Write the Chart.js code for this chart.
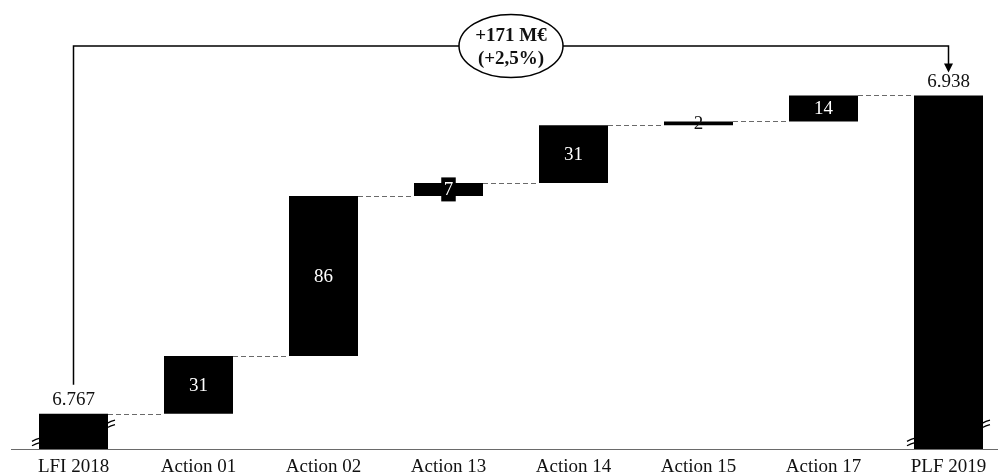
<!DOCTYPE html>
<html>
<head>
<meta charset="utf-8">
<title>Bridge LFI 2018 → PLF 2019</title>
<script src="https://cdn.jsdelivr.net/npm/chart.js@4.4.1/dist/chart.umd.min.js"></script>
<style>
  html, body { margin: 0; padding: 0; background: #fff; overflow: hidden; }
  #wrap { width: 998px; height: 476px; position: relative; }
</style>
</head>
<body>
<div id="wrap"><canvas id="bridge"></canvas></div>
<script>
// Bridge categories, opening/closing totals and the step of each action (M€)
const categories = ['LFI 2018', 'Action 01', 'Action 02', 'Action 13', 'Action 14', 'Action 15', 'Action 17', 'PLF 2019'];
const openingTotal = 6767;
const actionDeltas = [31, 86, 7, 31, 2, 14];
const closingTotal = 6938;
// value where the broken axis starts
const axisBreakBase = 6748;

const FONT = '"Liberation Serif", "Times New Roman", serif';

function fmtThousands(n) {
  return String(n).replace(/\B(?=(\d{3})+(?!\d))/g, '.');
}

// floating bar spans: totals rise from the axis break, actions stack on the running sum
const spans = [[axisBreakBase, openingTotal]];
let running = openingTotal;
actionDeltas.forEach(d => { spans.push([running, running + d]); running += d; });
spans.push([axisBreakBase, closingTotal]);

const barTexts = [fmtThousands(openingTotal), ...actionDeltas.map(String), fmtThousands(closingTotal)];
const isTotal = i => i === 0 || i === categories.length - 1;

// dashed connectors between consecutive bars
const connectorPlugin = {
  id: 'connectors',
  beforeDatasetsDraw(chart) {
    const ctx = chart.ctx, ys = chart.scales.y;
    const bars = chart.getDatasetMeta(0).data;
    ctx.save();
    ctx.strokeStyle = '#6a6a6a';
    ctx.lineWidth = 1;
    ctx.setLineDash([5, 3]);
    for (let i = 0; i < bars.length - 1; i++) {
      const level = spans[i][1];
      const y = Math.round(ys.getPixelForValue(level)) + 0.5;
      ctx.beginPath();
      ctx.moveTo(bars[i].x + bars[i].width / 2, y);
      ctx.lineTo(bars[i + 1].x - bars[i + 1].width / 2, y);
      ctx.stroke();
    }
    ctx.restore();
  }
};

// value labels, axis-break marks and the overall change bracket
const labelPlugin = {
  id: 'labels',
  afterDatasetsDraw(chart) {
    const ctx = chart.ctx, xs = chart.scales.x, ys = chart.scales.y;
    const bars = chart.getDatasetMeta(0).data;
    ctx.save();
    ctx.font = '19px ' + FONT;
    ctx.textAlign = 'center';
    bars.forEach((bar, i) => {
      const top = Math.min(bar.y, bar.base), bottom = Math.max(bar.y, bar.base);
      const h = bottom - top;
      const txt = barTexts[i];
      if (isTotal(i)) {
        ctx.fillStyle = '#111';
        ctx.textBaseline = 'alphabetic';
        ctx.fillText(txt, bar.x, top - 8.5);
        return;
      }
      const cy = (top + bottom) / 2;
      ctx.textBaseline = 'middle';
      if (h < 5) {
        ctx.fillStyle = '#111';
        ctx.fillText(txt, bar.x, cy + 1);
      } else if (h < 22) {
        const w = ctx.measureText(txt).width + 5;
        ctx.fillStyle = '#000';
        ctx.fillRect(bar.x - w / 2, cy - 12, w, 24);
        ctx.fillStyle = '#fff';
        ctx.fillText(txt, bar.x, cy + 1);
      } else {
        ctx.fillStyle = '#fff';
        ctx.fillText(txt, bar.x, cy + 1);
      }
    });

    // broken-axis marks on the two total bars
    const breakMark = (x, y, out) => {
      ctx.strokeStyle = '#000';
      ctx.lineWidth = 1.3;
      [-2.2, 2.2].forEach(off => {
        const xa = out > 0 ? x - 1 : x - 7;
        const xb = out > 0 ? x + 7 : x + 1;
        ctx.beginPath();
        ctx.moveTo(xa, y + off + 1.6);
        ctx.quadraticCurveTo((xa + xb) / 2, y + off - 0.6, xb, y + off - 1.6);
        ctx.stroke();
      });
    };
    [0, bars.length - 1].forEach(i => {
      const b = bars[i];
      const bottom = Math.max(b.y, b.base);
      breakMark(b.x + b.width / 2, bottom - 25, 1);
      breakMark(b.x - b.width / 2, bottom - 7, -1);
    });

    // overall change bracket from the opening to the closing total
    const x0 = xs.getPixelForValue(0);
    const x1 = xs.getPixelForValue(categories.length - 1);
    const yLine = chart.chartArea.top + 25;
    const yOpen = ys.getPixelForValue(openingTotal);
    const yClose = ys.getPixelForValue(closingTotal);
    ctx.strokeStyle = '#000';
    ctx.lineWidth = 1.5;
    ctx.setLineDash([]);
    ctx.beginPath();
    ctx.moveTo(x0, yOpen - 29);
    ctx.lineTo(x0, yLine);
    ctx.lineTo(x1, yLine);
    ctx.lineTo(x1, yClose - 30);
    ctx.stroke();
    ctx.fillStyle = '#000';
    ctx.beginPath();
    ctx.moveTo(x1 - 4.5, yClose - 32);
    ctx.lineTo(x1 + 4.5, yClose - 32);
    ctx.lineTo(x1, yClose - 23);
    ctx.closePath();
    ctx.fill();

    const delta = closingTotal - openingTotal;
    const pct = (delta / openingTotal * 100).toFixed(1).replace('.', ',');
    const cx = (x0 + x1) / 2;
    ctx.beginPath();
    ctx.ellipse(cx, yLine, 52, 31.5, 0, 0, Math.PI * 2);
    ctx.fillStyle = '#fff';
    ctx.fill();
    ctx.stroke();
    ctx.fillStyle = '#111';
    ctx.font = 'bold 19px ' + FONT;
    ctx.textBaseline = 'middle';
    ctx.fillText('+' + delta + ' M€', cx, yLine - 10);
    ctx.fillText('(+' + pct + '%)', cx, yLine + 13);
    ctx.restore();
  }
};

new Chart(document.getElementById('bridge'), {
  type: 'bar',
  data: {
    datasets: [{
      data: spans.map((s, i) => ({ x: i, y: s })),
      backgroundColor: '#000',
      borderWidth: 0,
      barPercentage: 0.552,
      categoryPercentage: 1
    }]
  },
  options: {
    responsive: true,
    maintainAspectRatio: false,
    animation: false,
    layout: { padding: { left: 11, right: 0, top: 21, bottom: 0 } },
    plugins: { legend: { display: false }, tooltip: { enabled: false } },
    scales: {
      x: {
        type: 'linear',
        offset: false,
        min: -0.5,
        max: 7.396,
        grid: { display: false, drawTicks: false, offset: false },
        border: { display: true, color: '#6a6a6a', width: 1 },
        afterBuildTicks: scale => { scale.ticks = categories.map((_, i) => ({ value: i })); },
        afterFit: scale => { scale.height = 27; },
        ticks: {
          autoSkip: false,
          maxRotation: 0,
          padding: 9,
          color: '#111',
          font: { family: FONT, size: 19, lineHeight: 1 },
          callback: v => categories[v] ?? ''
        }
      },
      y: { display: false, min: axisBreakBase, max: 6978 }
    }
  },
  plugins: [connectorPlugin, labelPlugin]
});
</script>
</body>
</html>
